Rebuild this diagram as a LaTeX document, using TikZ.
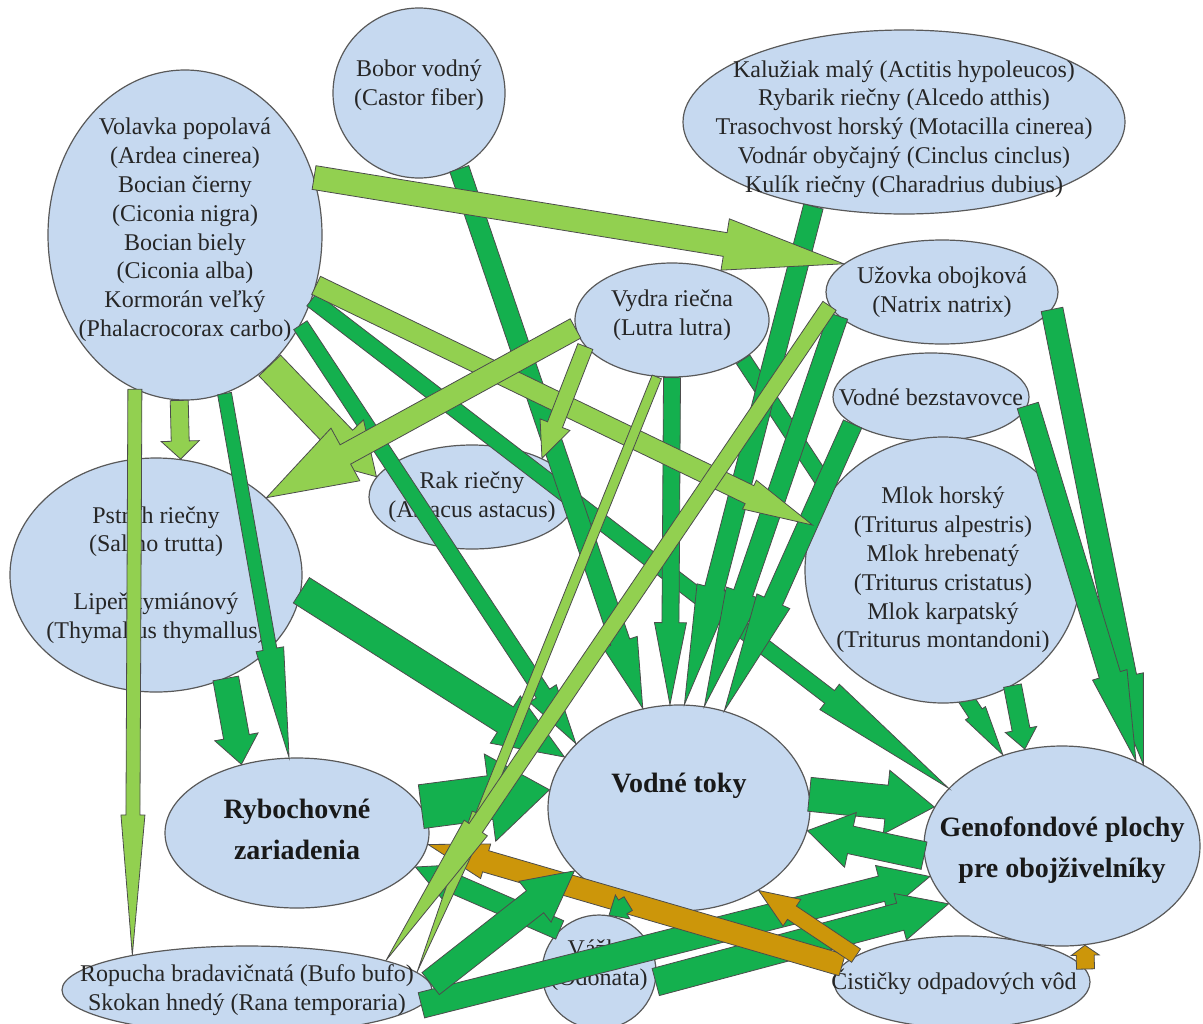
\documentclass[tikz,border=0pt]{standalone}
\usepackage{fontspec}
\setmainfont{Liberation Serif}
\usetikzlibrary{shapes.geometric,calc}

\definecolor{pond}{RGB}{198,217,240}
\definecolor{darkgr}{RGB}{20,176,78}
\definecolor{lightgr}{RGB}{146,208,80}
\definecolor{ochre}{RGB}{204,150,10}

% block arrow: [style]{from}{to}{half shaft}{half head}{head length}
\newcommand{\barrow}[6][]{%
  \coordinate (ba-s) at (#2);
  \coordinate (ba-e) at (#3);
  \coordinate (ba-h) at ($(ba-e)!#6!(ba-s)$);
  \filldraw[#1] ($(ba-s)!#4!90:(ba-e)$) -- ($(ba-h)!#4!90:(ba-e)$)
    -- ($(ba-h)!#5!90:(ba-e)$) -- (ba-e) -- ($(ba-h)!#5!-90:(ba-e)$)
    -- ($(ba-h)!#4!-90:(ba-e)$) -- ($(ba-s)!#4!-90:(ba-e)$) -- cycle;}

\begin{document}
\begin{tikzpicture}[x=0.5pt,y=-0.5pt,
spec/.style = {ellipse, draw=black!65, line width=0.6pt, fill=pond, inner sep=0pt},
txt/.style = {align=center, text=black!85, font=\fontsize{12}{14.4}\selectfont},
big/.style = {align=center, text=black!90, font=\bfseries\fontsize{14}{20.5}\selectfont},
dg/.style = {fill=darkgr, draw=black!70, line width=0.4pt},
lg/.style = {fill=lightgr, draw=black!70, line width=0.4pt},
br/.style = {fill=ochre, draw=black!70, line width=0.4pt}]
\useasboundingbox (0,0) rectangle (1203,1023);

\node[spec, minimum width=137pt, minimum height=165pt, label={[txt, yshift=2.5pt]center:{Volavka popolavá\\(Ardea cinerea)\\Bocian čierny\\(Ciconia nigra)\\Bocian biely\\(Ciconia alba)\\Kormorán veľký\\(Phalacrocorax carbo)}}] (volavka) at (185,235) {};
\node[spec, minimum width=86pt, minimum height=85pt, label={[txt, yshift=4pt]center:{Bobor vodný\\(Castor fiber)}}] (bobor) at (419,93) {};
\node[spec, minimum width=221pt, minimum height=92pt, label={[txt, yshift=-3.5pt]center:{Kalužiak malý (Actitis hypoleucos)\\Rybarik riečny (Alcedo atthis)\\Trasochvost horský (Motacilla cinerea)\\Vodnár obyčajný (Cinclus cinclus)\\Kulík riečny (Charadrius dubius)}}] (kaluziak) at (904,122) {};
\node[spec, minimum width=116pt, minimum height=52pt, label={[txt]center:{Užovka obojková\\(Natrix natrix)}}] (uzovka) at (942,292) {};
\node[spec, minimum width=97pt, minimum height=57pt, label={[txt, yshift=2.5pt]center:{Vydra riečna\\(Lutra lutra)}}] (vydra) at (672,320) {};
\node[spec, minimum width=98pt, minimum height=44pt, label={[txt]center:{Vodné bezstavovce}}] (bezstav) at (931,397) {};
\node[spec, minimum width=146pt, minimum height=117pt, label={[txt]center:{Pstruh riečny\\(Salmo trutta)\\[14.4pt]Lipeň tymiánový\\(Thymallus thymallus)}}] (pstruh) at (156,575) {};
\node[spec, minimum width=103pt, minimum height=52pt, label={[txt]center:{Rak riečny\\(Astacus astacus)}}] (rak) at (472,497) {};
\node[spec, minimum width=132pt, minimum height=75pt, label={[big, yshift=2pt]center:{Rybochovné\\zariadenia}}] (rybo) at (297,833) {};
\node[spec, minimum width=131pt, minimum height=103pt, label={[big, yshift=11pt]center:{Vodné toky}}] (toky) at (679,808) {};
\node[spec, minimum width=128pt, minimum height=46pt, label={[txt, xshift=-4pt]center:{Čističky odpadových vôd}}] (cisticky) at (962,982) {};
\node[spec, minimum width=138pt, minimum height=100pt, label={[big, yshift=-2pt]center:{Genofondové plochy\\pre obojživelníky}}] (geno) at (1062,846) {};
\node[spec, minimum width=185pt, minimum height=44pt, label={[txt]center:{Ropucha bradavičnatá (Bufo bufo)\\Skokan hnedý (Rana temporaria)}}] (ropucha) at (247,990) {};
\node[spec, minimum width=57pt, minimum height=57pt, label={[txt, yshift=3.5pt]center:{Vážky\\(Odonata)}}] (vazky) at (599,972) {};

% the one arrow that runs under the newts
\barrow[dg]{vydra.-29}{geno.123}{4pt}{6pt}{25pt}
\node[spec, minimum width=138pt, minimum height=133pt, label={[txt]center:{Mlok horský\\(Triturus alpestris)\\Mlok hrebenatý\\(Triturus cristatus)\\Mlok karpatský\\(Triturus montandoni)}}] (mlok) at (943,570) {};

% dark green
\barrow[dg]{volavka.-76}{rybo.96}{3.5pt}{7pt}{55pt}
\barrow[dg]{volavka.-38}{toky.148}{4pt}{8pt}{30pt}
\barrow[dg]{volavka.-27}{geno.153}{4pt}{8pt}{75pt}
\barrow[dg]{bobor.-62}{toky.110}{5pt}{9pt}{35pt}
\barrow[dg]{kaluziak.-137}{toky.87}{5pt}{9pt}{60pt}
\barrow[dg]{uzovka.-167}{toky.76}{5pt}{9pt}{60pt}
\barrow[dg]{bezstav.-161}{toky.65}{5pt}{9pt}{60pt}
\barrow[dg]{vydra.-90}{toky.95}{4.25pt}{8pt}{41pt}
\barrow[dg]{uzovka.-9}{geno.45}{5.5pt}{9pt}{45pt}
\barrow[dg]{bezstav.-5}{geno.49}{5.5pt}{9pt}{45pt}
\barrow[dg]{mlok.-59}{geno.111}{4.5pt}{8pt}{10pt}
\barrow[dg]{pstruh.-56}{rybo.129}{6.5pt}{11pt}{14pt}
\barrow[dg]{pstruh.-6}{toky.156}{7.5pt}{14pt}{35pt}
\barrow[dg]{rybo.12}{toky.172}{11pt}{22pt}{30pt}
\barrow[dg]{toky.6}{geno.163}{8.5pt}{16pt}{24pt}
\barrow[dg]{geno.184}{toky.-10}{7pt}{14pt}{22pt}
\barrow[dg]{ropucha.-5}{geno.193}{6.5pt}{12pt}{25pt}
\barrow[dg]{vazky.-10}{geno.207}{7pt}{12pt}{25pt}
\barrow[dg]{vazky.133}{rybo.-16}{5pt}{11pt}{22pt}

% brown
\barrow[br]{cisticky.172}{rybo.-5}{5.5pt}{9pt}{30pt}
\barrow[br]{cisticky.166}{toky.-46}{4pt}{8pt}{20pt}
\barrow[br]{cisticky.6}{geno.-77}{4.5pt}{7pt}{5pt}

\barrow[dg]{ropucha.2}{toky.-149}{7pt}{13pt}{25pt}
\barrow[dg]{toky.-118}{vazky.80}{4pt}{7pt}{8pt}

% light green
\barrow[lg]{volavka.24}{uzovka.164}{6pt}{13pt}{60pt}
\barrow[lg]{volavka.-21}{mlok.161}{5pt}{8pt}{35pt}
\barrow[lg]{volavka.-57}{rak.168}{7.5pt}{15pt}{25pt}
\barrow[lg]{volavka.-92}{pstruh.78}{4.5pt}{9.5pt}{9pt}
\barrow[lg]{volavka.-108}{ropucha.163}{3.5pt}{6pt}{70pt}
\barrow[lg]{vydra.185}{pstruh.35}{5.5pt}{15pt}{45pt}
\barrow[lg]{vydra.-163}{rak.29}{4pt}{8pt}{18pt}
\barrow[lg]{vydra.-105}{ropucha.6}{2.5pt}{4.5pt}{85pt}
\barrow[lg]{uzovka.-173}{ropucha.12}{4pt}{7pt}{80pt}
\end{tikzpicture}
\end{document}
